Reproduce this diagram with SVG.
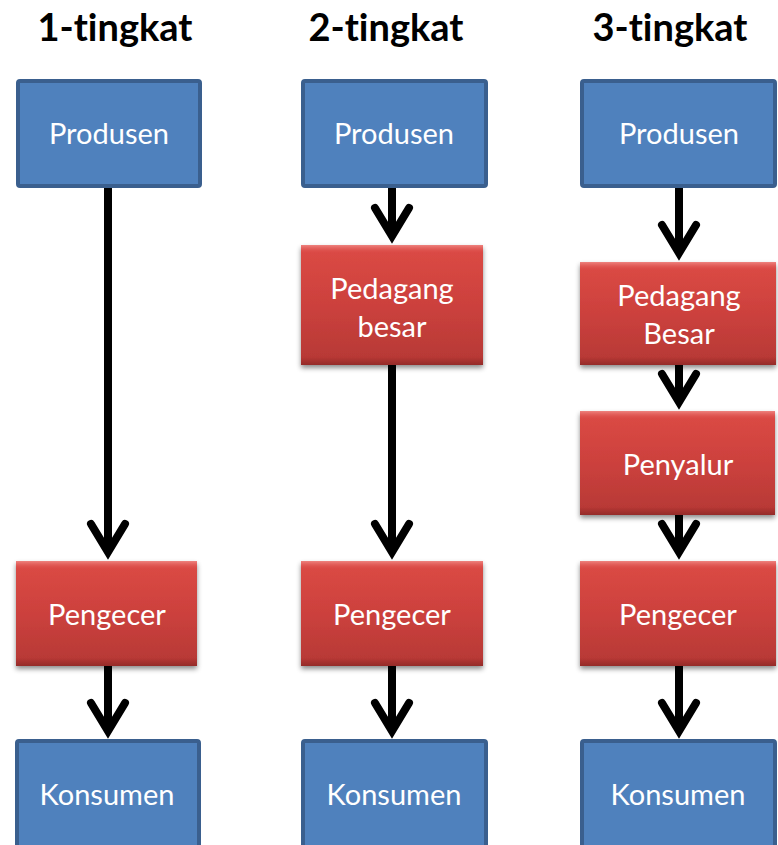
<svg xmlns="http://www.w3.org/2000/svg" width="778" height="845" viewBox="0 0 778 845">
  <defs>
    <style>
      .title { font-family: Lato, "Open Sans", "Liberation Sans", sans-serif; font-weight: bold; font-size: 38px; fill: #000; text-anchor: middle; font-variant-ligatures: none; }
      .lbl { font-family: Lato, "Open Sans", "Liberation Sans", sans-serif; font-size: 29px; fill: #fff; text-anchor: middle; font-variant-ligatures: none; }
      .blue { fill: #4f81bd; stroke: #3a5f8e; stroke-width: 4; }
      .red { fill: url(#redGrad); filter: url(#shadow); }
      .hi { fill: url(#bevelTop); }
      .lo { fill: url(#bevelBot); }
      .conn { stroke: #000; stroke-width: 8; fill: none; marker-end: url(#chev); }
    </style>
    <linearGradient id="redGrad" x1="0" y1="0" x2="0" y2="1">
      <stop offset="0" stop-color="#dc4a45"/>
      <stop offset="0.5" stop-color="#cc413d"/>
      <stop offset="1" stop-color="#b53835"/>
    </linearGradient>
    <linearGradient id="bevelTop" x1="0" y1="0" x2="0" y2="1">
      <stop offset="0" stop-color="#f08a86" stop-opacity="0.9"/>
      <stop offset="1" stop-color="#e05550" stop-opacity="0"/>
    </linearGradient>
    <linearGradient id="bevelBot" x1="0" y1="0" x2="0" y2="1">
      <stop offset="0" stop-color="#7e2220" stop-opacity="0"/>
      <stop offset="1" stop-color="#7e2220" stop-opacity="0.6"/>
    </linearGradient>
    <filter id="shadow" x="-10%" y="-10%" width="120%" height="130%">
      <feDropShadow dx="0" dy="3" stdDeviation="2.5" flood-color="#000" flood-opacity="0.45"/>
    </filter>
    <marker id="chev" markerUnits="userSpaceOnUse" orient="auto" refX="0" refY="0" markerWidth="60" markerHeight="60" viewBox="-40 -30 60 60" overflow="visible">
      <path d="M-28,-17 L0,0 L-28,17" stroke="#000" stroke-width="8" fill="none" stroke-linejoin="miter" stroke-linecap="round"/>
    </marker>
  </defs>

  <!-- column headings -->
  <text class="title" x="115" y="41">1-tingkat</text>
  <text class="title" x="386" y="41">2-tingkat</text>
  <text class="title" x="670" y="41">3-tingkat</text>

  <!-- connectors -->
  <g id="connectors">
    <path class="conn" d="M108,187 V552"/>
    <path class="conn" d="M108,666 V731"/>
    <path class="conn" d="M392,187 V236"/>
    <path class="conn" d="M392,365 V552"/>
    <path class="conn" d="M392,666 V731"/>
    <path class="conn" d="M679,187 V253"/>
    <path class="conn" d="M679,365 V402"/>
    <path class="conn" d="M679,515 V552"/>
    <path class="conn" d="M679,666 V731"/>
  </g>

  <!-- 1-tingkat -->
  <g id="produsen1">
    <rect class="blue" x="18" y="81" width="182" height="105" rx="2"/>
    <text class="lbl" x="109" y="144">Produsen</text>
  </g>
  <g id="pengecer1">
    <rect class="red" x="16" y="561" width="181" height="105"/>
    <rect class="hi" x="16" y="561" width="181" height="8"/>
    <rect class="lo" x="16" y="658" width="181" height="8"/>
    <text class="lbl" x="107" y="625">Pengecer</text>
  </g>
  <g id="konsumen1">
    <rect class="blue" x="17" y="741" width="182" height="110" rx="2"/>
    <text class="lbl" x="107" y="805">Konsumen</text>
  </g>

  <!-- 2-tingkat -->
  <g id="produsen2">
    <rect class="blue" x="303" y="81" width="183" height="105" rx="2"/>
    <text class="lbl" x="394" y="144">Produsen</text>
  </g>
  <g id="pedagangbesar2">
    <rect class="red" x="301" y="245" width="182" height="120"/>
    <rect class="hi" x="301" y="245" width="182" height="8"/>
    <rect class="lo" x="301" y="357" width="182" height="8"/>
    <text class="lbl" x="392" y="299">Pedagang</text>
    <text class="lbl" x="392" y="337">besar</text>
  </g>
  <g id="pengecer2">
    <rect class="red" x="301" y="561" width="182" height="105"/>
    <rect class="hi" x="301" y="561" width="182" height="8"/>
    <rect class="lo" x="301" y="658" width="182" height="8"/>
    <text class="lbl" x="392" y="625">Pengecer</text>
  </g>
  <g id="konsumen2">
    <rect class="blue" x="303" y="741" width="183" height="110" rx="2"/>
    <text class="lbl" x="394" y="805">Konsumen</text>
  </g>

  <!-- 3-tingkat -->
  <g id="produsen3">
    <rect class="blue" x="582" y="81" width="193" height="105" rx="2"/>
    <text class="lbl" x="679" y="144">Produsen</text>
  </g>
  <g id="pedagangbesar3">
    <rect class="red" x="580" y="262" width="196" height="103"/>
    <rect class="hi" x="580" y="262" width="196" height="8"/>
    <rect class="lo" x="580" y="357" width="196" height="8"/>
    <text class="lbl" x="679" y="306">Pedagang</text>
    <text class="lbl" x="679" y="344">Besar</text>
  </g>
  <g id="penyalur3">
    <rect class="red" x="580" y="411" width="195" height="104"/>
    <rect class="hi" x="580" y="411" width="195" height="8"/>
    <rect class="lo" x="580" y="507" width="195" height="8"/>
    <text class="lbl" x="678" y="475">Penyalur</text>
  </g>
  <g id="pengecer3">
    <rect class="red" x="580" y="561" width="196" height="105"/>
    <rect class="hi" x="580" y="561" width="196" height="8"/>
    <rect class="lo" x="580" y="658" width="196" height="8"/>
    <text class="lbl" x="678" y="625">Pengecer</text>
  </g>
  <g id="konsumen3">
    <rect class="blue" x="582" y="741" width="193" height="110" rx="2"/>
    <text class="lbl" x="678" y="805">Konsumen</text>
  </g>
</svg>
